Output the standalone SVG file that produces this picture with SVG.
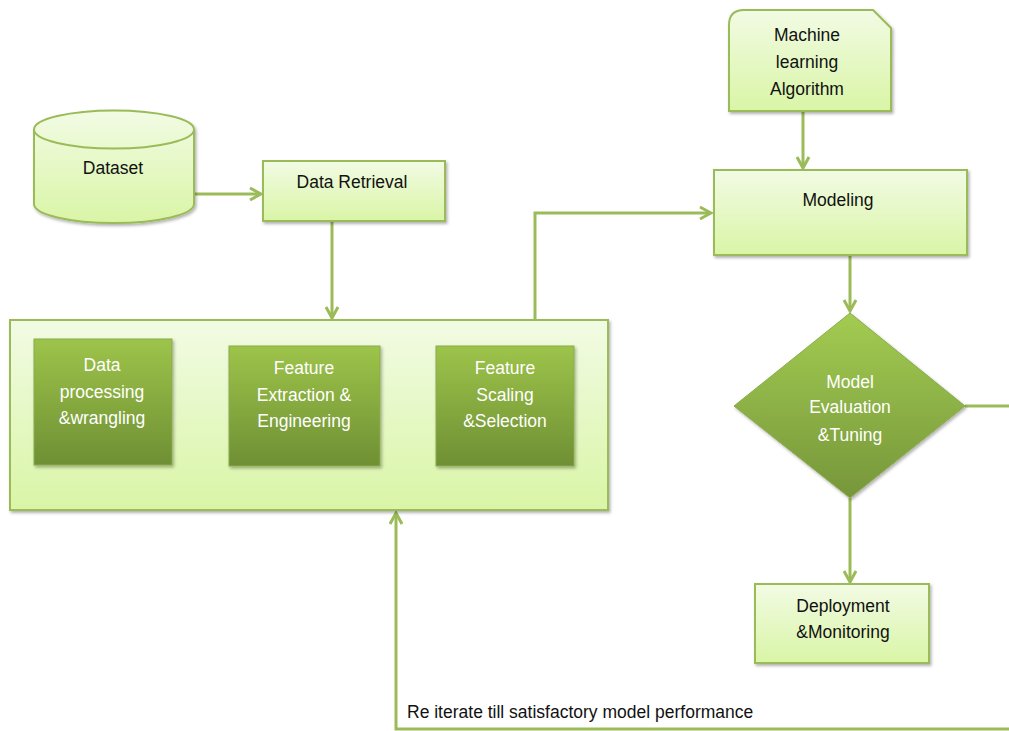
<svg xmlns="http://www.w3.org/2000/svg" width="1009" height="731" viewBox="0 0 1009 731">
<defs>
<linearGradient id="light" x1="0" y1="0" x2="0" y2="1">
<stop offset="0" stop-color="#f2fbe4"/>
<stop offset="1" stop-color="#d9f5a6"/>
</linearGradient>
<linearGradient id="dark" x1="0" y1="0" x2="0" y2="1">
<stop offset="0" stop-color="#9dc44a"/>
<stop offset="1" stop-color="#6f8f34"/>
</linearGradient>
<linearGradient id="diam" x1="0" y1="0" x2="0" y2="1">
<stop offset="0" stop-color="#a3cc52"/>
<stop offset="1" stop-color="#76963a"/>
</linearGradient>
<filter id="sh" x="-10%" y="-10%" width="125%" height="130%">
<feDropShadow dx="1.5" dy="2" stdDeviation="1.5" flood-color="#000" flood-opacity="0.3"/>
</filter>
<marker id="arr" viewBox="0 0 16 16" refX="14" refY="8" markerWidth="16" markerHeight="16" markerUnits="userSpaceOnUse" orient="auto">
<path d="M3,2 L14,8 L3,14" fill="none" stroke="#9bbb59" stroke-width="3"/>
</marker>
</defs>
<style>
.lt{fill:url(#light);stroke:#9bbb59;stroke-width:2;filter:url(#sh)}
.dk{fill:url(#dark);stroke:#8aac4a;stroke-width:1;filter:url(#sh)}
.t{font-family:"Liberation Sans",Arial,sans-serif;font-size:17.5px;fill:#111;text-anchor:middle}
.w{font-family:"Liberation Sans",Arial,sans-serif;font-size:17.5px;fill:#fff;text-anchor:middle}
.c{fill:none;stroke:#9bbb59;stroke-width:3}
</style>
<rect width="1009" height="731" fill="#fff"/>
<g id="connectors">
<path class="c" d="M194,194 H261" marker-end="url(#arr)"/>
<path class="c" d="M332,221 V318" marker-end="url(#arr)"/>
<path class="c" d="M535,320 V213 H711" marker-end="url(#arr)"/>
<path class="c" d="M803,111 V168" marker-end="url(#arr)"/>
<path class="c" d="M850,255 V311" marker-end="url(#arr)"/>
<path class="c" d="M850,498 V582" marker-end="url(#arr)"/>
<path class="c" d="M965,406 H1015 V729 H396 V513" marker-end="url(#arr)"/>
</g>
<g id="dataset">
<path class="lt" d="M34,129.5 A80,19 0 0 1 194,129.5 V204 A80,19 0 0 1 34,204 Z"/>
<path d="M34,129.5 A80,19 0 0 0 194,129.5" fill="none" stroke="#9bbb59" stroke-width="2"/>
<text class="t" x="113" y="174">Dataset</text>
</g>
<g id="data-retrieval">
<rect class="lt" x="263" y="161" width="182" height="60"/>
<text class="t" x="352" y="188">Data Retrieval</text>
</g>
<g id="preprocessing">
<rect class="lt" x="10" y="320" width="598" height="190"/>
</g>
<g id="data-processing">
<rect class="dk" x="34" y="339" width="138" height="126"/>
<text class="w" x="102" y="371">Data</text>
<text class="w" x="102" y="398">processing</text>
<text class="w" x="102" y="424">&amp;wrangling</text>
</g>
<g id="feature-extraction">
<rect class="dk" x="229" y="346" width="151" height="120"/>
<text class="w" x="304" y="374">Feature</text>
<text class="w" x="304" y="401">Extraction &amp;</text>
<text class="w" x="304" y="427">Engineering</text>
</g>
<g id="feature-scaling">
<rect class="dk" x="436" y="346" width="138" height="120"/>
<text class="w" x="505" y="374">Feature</text>
<text class="w" x="505" y="401">Scaling</text>
<text class="w" x="505" y="427">&amp;Selection</text>
</g>
<g id="ml-algorithm">
<path class="lt" d="M744,10 H873 L891,28 V111 H729 V25 Q729,10 744,10 Z"/>
<text class="t" x="807" y="41">Machine</text>
<text class="t" x="807" y="68">learning</text>
<text class="t" x="807" y="95">Algorithm</text>
</g>
<g id="modeling">
<rect class="lt" x="714" y="170" width="253" height="85"/>
<text class="t" x="838" y="206">Modeling</text>
</g>
<g id="evaluation">
<path d="M850,313 L965,406 L850,498 L734,406 Z" fill="url(#diam)" stroke="#8aac4a" stroke-width="1" filter="url(#sh)"/>
<text class="w" x="850" y="388">Model</text>
<text class="w" x="850" y="413">Evaluation</text>
<text class="w" x="850" y="441">&amp;Tuning</text>
</g>
<g id="deployment">
<rect class="lt" x="755" y="584" width="174" height="79"/>
<text class="t" x="843" y="612">Deployment</text>
<text class="t" x="843" y="638">&amp;Monitoring</text>
</g>
<g id="label">
<text x="407" y="718" font-family="Liberation Sans, Arial, sans-serif" font-size="17.5" fill="#111">Re iterate till satisfactory model performance</text>
</g>
</svg>
